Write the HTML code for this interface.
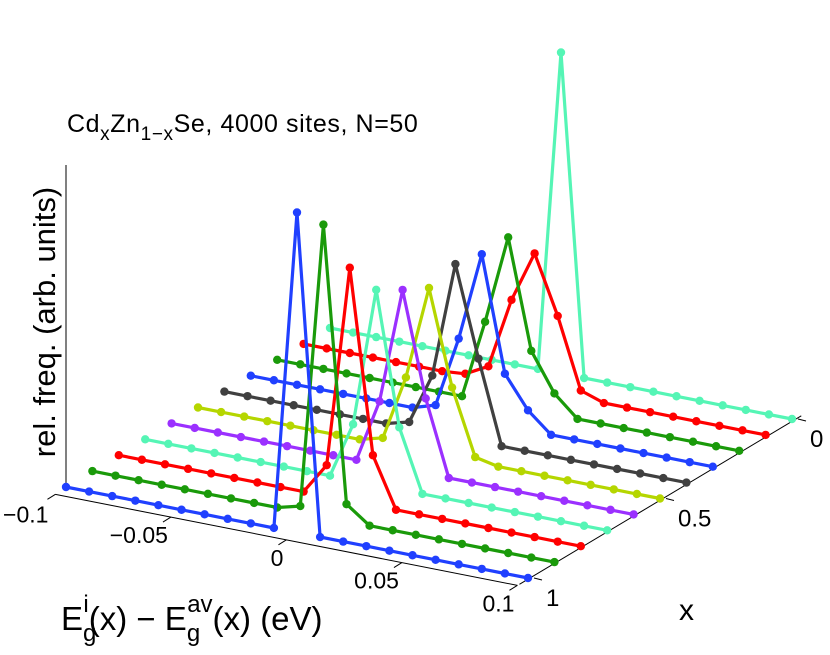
<!DOCTYPE html>
<html><head><meta charset="utf-8"><style>
html,body{margin:0;padding:0;background:#fff;}
svg{display:block;font-family:"Liberation Sans",sans-serif;}
</style></head><body>
<svg id="chart" width="830" height="655" viewBox="0 0 830 655" xmlns="http://www.w3.org/2000/svg">
<text x="67" y="132" font-size="25" letter-spacing="0.6">Cd<tspan font-size="19" dy="8">x</tspan><tspan dy="-8">Zn</tspan><tspan font-size="19" dy="8">1−x</tspan><tspan dy="-8">Se, 4000 sites, N=50</tspan></text>
<line x1="66" y1="165" x2="66" y2="487" stroke="#000" stroke-width="1"/>
<text transform="translate(55,322) rotate(-90)" text-anchor="middle" font-size="31">rel. freq. (arb. units)</text>
<g id="axes"></g>
<g id="series"></g>
<text x="679" y="620" font-size="30">x</text>
<text x="61" y="630" font-size="33">E<tspan font-size="24" dy="11">g</tspan><tspan font-size="24" dy="-29" dx="-13">i</tspan><tspan dy="18">(x) − E</tspan><tspan font-size="24" dy="11">g</tspan><tspan font-size="24" dy="-29" dx="-13">av</tspan><tspan dy="18">(x) (eV)</tspan></text>
</svg>
<script>
const energies = [-0.1,-0.09,-0.08,-0.07,-0.06,-0.05,-0.04,-0.03,-0.02,-0.01,0,0.01,0.02,0.03,0.04,0.05,0.06,0.07,0.08,0.09,0.1];
const compositions = [0,0.1,0.2,0.3,0.4,0.5,0.6,0.7,0.8,0.9,1];
const colors = ["#55f5b5","#ff0000","#1a9a0a","#2040ff","#404040","#b5d600","#9b30ff","#55f5b5","#ff0000","#1a9a0a","#2040ff"];
const freqX00 = [0,0,0,0,0,0,0,0,0,0,3.21,0,0,0,0,0,0,0,0,0,0];
const freqX01 = [0,0,0,0,0,0,0,0.02,0.14,0.85,1.36,0.78,0.08,0,0,0,0,0,0,0,0];
const freqX02 = [0,0,0,0,0,0,0,0,0,0.79,1.68,0.59,0.21,0,0,0,0,0,0,0,0];
const freqX03 = [0,0,0,0,0,0,0,0,0.07,0.78,1.67,0.52,0.20,0,0,0,0,0,0,0,0];
const freqX04 = [0,0,0,0,0,0,0,0,0.06,0.57,1.73,0.83,0,0,0,0,0,0,0,0,0];
const freqX05 = [0,0,0,0,0,0,0,0,0.06,0.71,1.65,0.70,0.05,0,0,0,0,0,0,0,0];
const freqX06 = [0,0,0,0,0,0,0,0,0,0.63,1.79,0.75,0,0,0,0,0,0,0,0,0];
const freqX07 = [0,0,0,0,0,0,0,0,0,0.56,1.95,0.62,0,0,0,0,0,0,0,0,0];
const freqX08 = [0,0,0,0,0,0,0,0,0,0.31,2.33,0.50,0,0,0,0,0,0,0,0,0];
const freqX09 = [0,0,0,0,0,0,0,0,0,0.06,2.92,0.17,0,0,0,0,0,0,0,0,0];
const freqX10 = [0,0,0,0,0,0,0,0,0,0,3.20,0,0,0,0,0,0,0,0,0,0];
const seriesFreq = [freqX00,freqX01,freqX02,freqX03,freqX04,freqX05,freqX06,freqX07,freqX08,freqX09,freqX10];
const energyTicks = [-0.1,-0.05,0,0.05,0.1];
const energyTickLabels = ["−0.1","−0.05","0","0.05","0.1"];
const xTicks = [0,0.5,1];
const xTickLabels = ["0","0.5","1"];

const NS="http://www.w3.org/2000/svg";
function px(e,x){return 66+(e+0.1)/0.2*462+(1-x)*264;}
function py(e,x,z){return 487+(e+0.1)/0.2*91-(1-x)*159-z*100;}
function mk(tag,attrs,parent){const el=document.createElementNS(NS,tag);for(const k in attrs)el.setAttribute(k,attrs[k]);parent.appendChild(el);return el;}

const axes=document.getElementById('axes');
let ea=mk('line',{x1:px(-0.1,1.04),y1:py(-0.1,1.04,0)+1,x2:px(0.1,1.04),y2:py(0.1,1.04,0)+1,stroke:'#000','stroke-width':1},axes);


let xa=mk('line',{x1:px(0.1,1.04)+2,y1:py(0.1,1.04,0),x2:px(0.1,-0.02)+4,y2:py(0.1,-0.02,0),stroke:'#000','stroke-width':1},axes);


energyTicks.forEach((e,i)=>{
  const x0=px(e,1.04),y0=py(e,1.04,0)+1;
  const t=mk('line',{x1:x0,y1:y0,x2:x0-8,y2:y0+5,stroke:'#000','stroke-width':1},axes);
  
  
  const lx = i===0 ? x0-7 : x0-3;
  const ly = i===0 ? y0+28 : y0+26;
  const lb=mk('text',{x:lx,y:ly,'font-size':23,'text-anchor':'end'},axes);
  lb.textContent=energyTickLabels[i];
  
  
});
xTicks.forEach((x,i)=>{
  const x0=px(0.1,x)+12,y0=py(0.1,x,0)+2;
  const t=mk('line',{x1:x0-6,y1:y0-2,x2:x0+2,y2:y0,stroke:'#000','stroke-width':1},axes);
  
  
  const lb=mk('text',{x:x0+6,y:y0+26,'font-size':24},axes);
  lb.textContent=xTickLabels[i];
  
  
});

const sg=document.getElementById('series');
compositions.forEach((x,si)=>{
  const g=mk('g',{},sg);
  
  
  const vals=seriesFreq[si];
  const pts=energies.map((e,j)=>[px(e,x),py(e,x,vals[j])]);
  const pl=mk('polyline',{points:pts.map(p=>p[0].toFixed(1)+','+p[1].toFixed(1)).join(' '),fill:'none',stroke:colors[si],'stroke-width':3.2,'stroke-linejoin':'round'},g);
  
  
  pts.forEach(p=>{
    const c=mk('circle',{cx:p[0],cy:p[1],r:4.2,fill:colors[si]},g);
    
    
  });
});
</script>
</body></html>
